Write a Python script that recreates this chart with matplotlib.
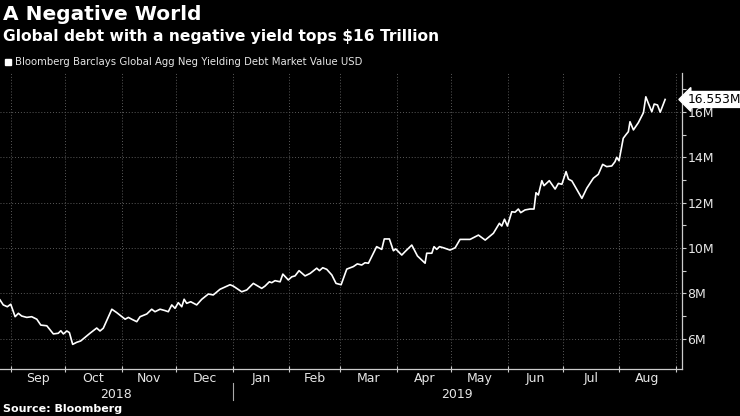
import numpy as np
import pandas as pd
import matplotlib
matplotlib.use("Agg")
import matplotlib.pyplot as plt
import matplotlib.dates as mdates
from matplotlib.ticker import FixedLocator, FuncFormatter

# ---- data (days since 2018-09-01, value in "M") ----
start_date = "2018-09-01"
day_offsets = [
    -5.9, -4.1, -1.9, 0.0, 2.4, 4.2, 6.0, 8.8, 11.5, 14.3, 16.5, 19.8, 23.4, 26.1,
    27.5, 28.9, 30.8, 32.2, 34.0, 36.2, 38.4, 40.8, 43.5, 47.2, 49.0, 50.8, 55.5,
    58.2, 62.8, 64.6, 66.4, 69.2, 71.0, 74.7, 77.4, 79.2, 82.0, 84.7, 86.5, 88.4,
    90.2, 92.0, 93.9, 95.2, 96.6, 98.8, 102.1, 104.9, 108.5, 111.2, 114.9, 120.4,
    122.2, 126.8, 129.6, 133.2, 137.8, 139.6, 142.0, 143.3, 145.1, 147.9, 149.4,
    152.4, 154.3, 156.1, 158.3, 161.6, 164.4, 168.0, 169.5, 171.3, 173.5, 176.3,
    178.6, 181.4, 184.5, 188.1, 190.3, 192.7, 194.5, 196.4, 200.9, 203.7, 205.1,
    207.9, 210.1, 211.4, 214.7, 216.5, 220.2, 223.3, 226.6, 227.5, 228.4, 231.2,
    232.4, 233.9, 235.4, 237.6, 241.2, 244.0, 246.7, 252.2, 256.8, 260.5, 265.0,
    268.3, 269.6, 271.1, 272.7, 275.1, 276.9, 278.7, 280.0, 282.4, 285.1, 287.3,
    288.4, 289.7, 291.6, 292.8, 295.7, 298.9, 300.7, 302.6, 304.9, 306.2, 308.1,
    313.6, 316.3, 319.9, 322.6, 325.0, 327.2, 330.0, 331.8, 332.7, 334.0, 336.3,
    337.7, 339.1, 340.0, 341.9, 344.6, 347.4, 348.7, 350.1, 352.0, 353.3, 355.1,
    356.6, 359.3,
]
values_m = [
    7.71, 7.49, 7.41, 7.52, 6.97, 7.12, 7.00, 6.94, 6.97, 6.86, 6.60, 6.57, 6.21, 6.24,
    6.35, 6.21, 6.34, 6.27, 5.75, 5.84, 5.90, 6.06, 6.24, 6.47, 6.34, 6.46, 7.30,
    7.15, 6.86, 6.94, 6.86, 6.75, 6.97, 7.09, 7.30, 7.19, 7.30, 7.24, 7.19, 7.49,
    7.34, 7.59, 7.41, 7.74, 7.56, 7.63, 7.49, 7.74, 7.97, 7.93, 8.18, 8.38,
    8.32, 8.07, 8.15, 8.44, 8.22, 8.32, 8.51, 8.47, 8.56, 8.51, 8.85,
    8.59, 8.73, 8.77, 9.00, 8.77, 8.88, 9.11, 9.00, 9.13, 9.06, 8.81,
    8.44, 8.38, 9.07, 9.18, 9.30, 9.25, 9.35, 9.33, 10.06, 9.94, 10.40,
    10.40, 9.88, 9.96, 9.69, 9.84, 10.13, 9.65, 9.40, 9.33, 9.77, 9.77,
    10.06, 9.94, 10.06, 10.01, 9.91, 10.01, 10.38, 10.38, 10.57, 10.35, 10.65,
    11.09, 10.97, 11.27, 10.97, 11.60, 11.58, 11.72, 11.56, 11.68, 11.72, 11.72,
    12.44, 12.34, 12.97, 12.75, 12.97, 12.60, 12.85, 12.81, 13.37, 13.04, 12.96,
    12.19, 12.64, 13.08, 13.25, 13.69, 13.59, 13.62, 13.81, 14.00, 13.85, 14.84,
    14.99, 15.13, 15.57, 15.21, 15.53, 15.97, 16.67, 16.38, 16.01, 16.35, 16.31,
    15.99, 16.553,
]
y_ticks_m = [6, 8, 10, 12, 14, 16]
last_label = "16.553M"
year_labels = ["2018", "2019"]

title = "A Negative World"
subtitle = "Global debt with a negative yield tops $16 Trillion"
legend_label = "Bloomberg Barclays Global Agg Neg Yielding Debt Market Value USD"
source = "Source: Bloomberg"

# ---- figure ----
BG = "black"
FG = "#e6e6e6"
GRID = "#5a5a5a"

fig = plt.figure(figsize=(7.4, 4.16), dpi=100, facecolor=BG)
ax = fig.add_axes([0.0, 1 - 369.3 / 416, 681.7 / 740, (369.3 - 73) / 416])
ax.set_facecolor(BG)

t0 = pd.Timestamp(start_date)
dates = t0 + pd.to_timedelta(day_offsets, unit="D")
ax.plot(dates, values_m, color="white", lw=1.2, solid_joinstyle="round", zorder=3)

xmin = t0 + pd.Timedelta(days=-5.9)
xmax = t0 + pd.Timedelta(days=368.4)
ax.set_xlim(xmin, xmax)
ax.set_ylim(4.65, 17.72)

# y axis on the right
ax.yaxis.tick_right()
ax.yaxis.set_major_locator(FixedLocator(y_ticks_m))
ax.yaxis.set_minor_locator(FixedLocator([v + 1 for v in [3] + y_ticks_m]))
ax.yaxis.set_major_formatter(FuncFormatter(lambda v, p: f"{v:.0f}M"))
ax.tick_params(axis="y", which="both", colors="#cccccc", labelcolor=FG,
               labelsize=9, length=3, width=0.8, pad=1)

# x axis: month boundaries as major ticks, labels at mid-month
month_starts = pd.date_range("2018-09-01", "2019-09-01", freq="MS")
ax.xaxis.set_major_locator(FixedLocator(mdates.date2num(month_starts)))
ax.xaxis.set_major_formatter(FuncFormatter(lambda v, p: ""))
mids = [ms + (ms + pd.offsets.MonthBegin(1) - ms) / 2 for ms in month_starts[:-1]]
ax.xaxis.set_minor_locator(FixedLocator(mdates.date2num(mids)))
ax.xaxis.set_minor_formatter(FuncFormatter(
    lambda v, p: mdates.num2date(v).strftime("%b")))
ax.tick_params(axis="x", which="major", direction="inout", length=5, width=0.8,
               colors="#cccccc")
ax.tick_params(axis="x", which="minor", length=0, labelcolor=FG, labelsize=9, pad=2)

ax.grid(True, which="major", color=GRID, linestyle=(0, (1, 2)), linewidth=0.7)

for s in ["left", "top"]:
    ax.spines[s].set_visible(False)
for s in ["right", "bottom"]:
    ax.spines[s].set_color("#cccccc")
    ax.spines[s].set_linewidth(0.9)

# year labels centred under visible portion of each year
xl0, xl1 = ax.get_xlim()
ny = mdates.date2num(pd.Timestamp("2019-01-01"))
trans = ax.get_xaxis_transform()
ax.text((xl0 + ny) / 2, -0.085, year_labels[0], transform=trans, ha="center",
        va="center", color=FG, fontsize=9)
ax.text((ny + xl1) / 2, -0.085, year_labels[1], transform=trans, ha="center",
        va="center", color=FG, fontsize=9)
ax.plot([ny, ny], [-0.045, -0.105], transform=trans, color="#aaaaaa", lw=0.8,
        clip_on=False)

# last value label
ax.annotate(last_label, xy=(1.0, values_m[-1]), xycoords=("axes fraction", "data"),
            xytext=(4, 0), textcoords="offset points", ha="left", va="center",
            fontsize=8.8, color="black",
            bbox=dict(boxstyle="larrow,pad=0.12", fc="white", ec="white"),
            annotation_clip=False, zorder=5)

# titles and legend
fig.text(0.004, 1 - 15 / 416, title, color="white", fontsize=14.5, fontweight="bold",
         ha="left", va="center")
fig.text(0.004, 1 - 36 / 416, subtitle, color="white", fontsize=11.2,
         fontweight="bold", ha="left", va="center")
fig.patches.append(plt.Rectangle((5 / 740, 1 - 65 / 416), 6 / 740, 6 / 416,
                                 transform=fig.transFigure, color="white"))
fig.text(15 / 740, 1 - 62 / 416, legend_label, color=FG, fontsize=7.3,
         ha="left", va="center")
fig.text(0.004, 1 - 409 / 416, source, color="white", fontsize=8,
         fontweight="bold", ha="left", va="center")

fig.savefig("out.png", dpi=100, facecolor=BG)
